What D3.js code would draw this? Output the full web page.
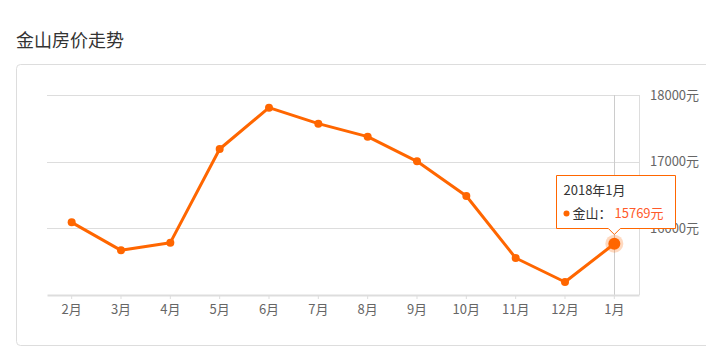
<!DOCTYPE html>
<html><head><meta charset="utf-8">
<script src="https://cdn.jsdelivr.net/npm/d3@7"></script>
<style>
body{margin:0;background:#fff;font-family:"Microsoft YaHei","Noto Sans CJK SC",sans-serif;}
</style></head>
<body><svg id="c" width="706" height="356"></svg>
<script>
const months = ["2月","3月","4月","5月","6月","7月","8月","9月","10月","11月","12月","1月"];
const prices = [16090,15670,15785,17190,17810,17570,17375,17005,16485,15555,15195,15769];
const yTicks = [16000,17000,18000];
const title = "金山房价走势";
const seriesName = "金山";
const tipTitle = "2018年1月";

const svg = d3.select("#c");
const font = '"Noto Sans CJK SC", sans-serif';
svg.append("text").attr("x",16).attr("y",47).attr("font-size",18).attr("fill","#333")
  .attr("font-family",font).text(title);
// card
svg.append("rect").attr("x",16.5).attr("y",64.5).attr("width",720).attr("height",281)
  .attr("rx",4).attr("fill","none").attr("stroke","#ddd");

const L=47, R=639, T=95, B=295;
const x = d3.scaleBand().domain(months).range([L,R]);
const y = d3.scaleLinear().domain([15000,18000]).range([B,T]);
const cx = d => x(d)+x.bandwidth()/2;

// grid
svg.append("g").selectAll("line").data(yTicks).join("line")
  .attr("x1",L).attr("x2",R).attr("y1",d=>Math.round(y(d))+0.5).attr("y2",d=>Math.round(y(d))+0.5)
  .attr("stroke","#ddd");
// right axis line
svg.append("line").attr("x1",R+0.5).attr("x2",R+0.5).attr("y1",T).attr("y2",B).attr("stroke","#ddd");
// right labels
const ya = svg.append("g").attr("transform",`translate(${R},0)`)
  .call(d3.axisRight(y).tickValues(yTicks).tickSize(0).tickPadding(11).tickFormat(d=>d+"元"));
ya.select(".domain").remove();
ya.selectAll("text").attr("font-size",13).attr("fill","#666").attr("font-family",font);

// crosshair
svg.append("line").attr("x1",Math.round(cx("1月"))+0.5).attr("x2",Math.round(cx("1月"))+0.5)
  .attr("y1",T).attr("y2",B).attr("stroke","#ccc");

// x axis
const xa = svg.append("g").attr("transform",`translate(0,${B})`)
  .call(d3.axisBottom(x).tickSize(4).tickSizeOuter(0).tickPadding(6));
xa.select(".domain").attr("stroke","#ddd").attr("stroke-width",2);
xa.selectAll(".tick line").attr("stroke","#ddd");
xa.selectAll("text").attr("font-size",13).attr("fill","#666").attr("font-family",font);

// line
const line = d3.line().x((d,i)=>cx(months[i])).y(d=>y(d));
svg.append("path").datum(prices).attr("d",line).attr("fill","none")
  .attr("stroke","#ff6600").attr("stroke-width",3).attr("stroke-linejoin","round");
svg.append("g").selectAll("circle").data(prices).join("circle")
  .attr("cx",(d,i)=>cx(months[i])).attr("cy",d=>y(d)).attr("r",(d,i)=>i===11?0:4)
  .attr("fill","#ff6600");
// highlighted point
const hx = cx("1月"), hy = y(prices[11]);
svg.append("circle").attr("cx",hx).attr("cy",hy).attr("r",9).attr("fill","#ff6600").attr("opacity",0.25);
svg.append("circle").attr("cx",hx).attr("cy",hy).attr("r",6).attr("fill","#ff6600");

// tooltip
const tx=556.5, ty=175.5, tw=119, th=53;
const tip = svg.append("g");
tip.append("path").attr("d",`M${tx},${ty}h${tw}v${th}H${hx+6}l-6,6l-6,-6H${tx}Z`)
  .attr("fill","#fff").attr("stroke","#ff6600").attr("stroke-width",1);
tip.append("text").attr("x",tx+7).attr("y",ty+19).attr("font-size",13).attr("fill","#333")
  .attr("font-family",font).text(tipTitle);
tip.append("circle").attr("cx",tx+10).attr("cy",ty+38).attr("r",3).attr("fill","#ff6600");
tip.append("text").attr("x",tx+16).attr("y",ty+42).attr("font-size",13).attr("fill","#333")
  .attr("font-family",font).text(seriesName+"：");
tip.append("text").attr("x",tx+58).attr("y",ty+42).attr("font-size",13).attr("fill","#ff5a2a")
  .attr("font-family",font).text(prices[11]+"元");
</script></body></html>
